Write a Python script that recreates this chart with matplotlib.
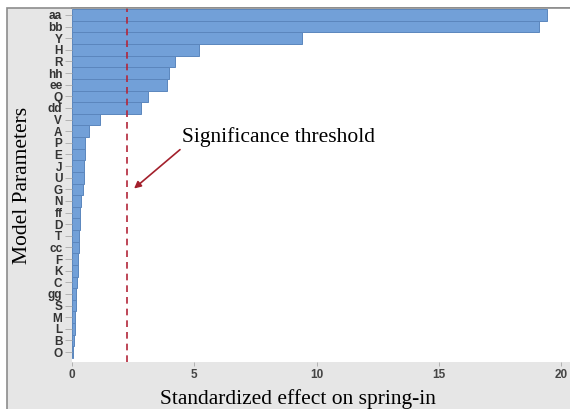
import matplotlib.pyplot as plt
from matplotlib.patches import Rectangle

params = ['aa', 'bb', 'Y', 'H', 'R', 'hh', 'ee', 'Q', 'dd', 'V', 'A', 'P', 'E', 'J', 'U',
          'G', 'N', 'ff', 'D', 'T', 'cc', 'F', 'K', 'C', 'gg', 'S', 'M', 'L', 'B', 'O']
effects = [19.4, 19.1, 9.4, 5.2, 4.2, 3.95, 3.88, 3.1, 2.8, 1.15, 0.7, 0.55, 0.53, 0.5, 0.47,
           0.43, 0.35, 0.33, 0.32, 0.3, 0.3, 0.26, 0.25, 0.22, 0.18, 0.15, 0.14, 0.12, 0.08, 0.03]
threshold = 2.24
xticks = [0, 5, 10, 15, 20]

fig = plt.figure(figsize=(5.7, 4.09), dpi=100)
fig.patch.set_facecolor('white')
# gray frame behind the plot
fig.patches.append(Rectangle((7 / 570, -0.01), 1, 1.01 - 8 / 409, transform=fig.transFigure,
                             facecolor='#e6e6e6', edgecolor='#8c8c8c', lw=1.2, zorder=-10))

ax = fig.add_axes([72 / 570, 47 / 409, 1 - 72 / 570, 354 / 409])
ax.set_facecolor('white')
ypos = list(range(len(params)))
ax.barh(ypos, effects, height=1.0, color='#72a0d8', edgecolor='#5b86bd', lw=0.7)
ax.axvline(threshold, color='#b3263a', ls=(0, (4, 3)), lw=1.2)

ax.set_ylim(29.85, -0.6)
ax.set_xlim(0, 20.35)
ax.set_yticks(ypos)
ax.set_yticklabels(params, fontfamily='Liberation Sans', fontweight='bold', fontsize=8.5,
                   color='#333333')
ax.set_xticks(xticks)
ax.set_xticklabels([str(t) for t in xticks], fontfamily='Liberation Sans', fontweight='bold',
                   fontsize=8.5, color='#444444')
ax.tick_params(axis='y', length=5, width=0.6, color='#aaaaaa', pad=2)
ax.tick_params(axis='x', length=3, width=0.6, color='#aaaaaa', pad=2)
for s in ax.spines.values():
    s.set_visible(False)
ax.spines['top'].set_visible(True)
ax.spines['top'].set_color('#8c8c8c')
ax.spines['top'].set_linewidth(1.2)

ax.set_xlabel('Standardized effect on spring-in', fontfamily='Liberation Serif',
              fontsize=15.5, labelpad=6, x=0.453)
ax.set_ylabel('Model Parameters', fontfamily='Liberation Serif', fontsize=15.5, labelpad=11)

ax.annotate('', xy=(2.45, 0.485), xycoords=('data', 'axes fraction'),
            xytext=(4.5, 0.605), textcoords=('data', 'axes fraction'),
            arrowprops=dict(arrowstyle='-|>', color='#a3202c', lw=1.2, mutation_scale=10))
ax.text(4.5, 0.636, 'Significance threshold', transform=ax.get_xaxis_transform(),
        fontfamily='Liberation Serif', fontsize=15.5, va='center', ha='left')

fig.savefig('out.png', dpi=100)
